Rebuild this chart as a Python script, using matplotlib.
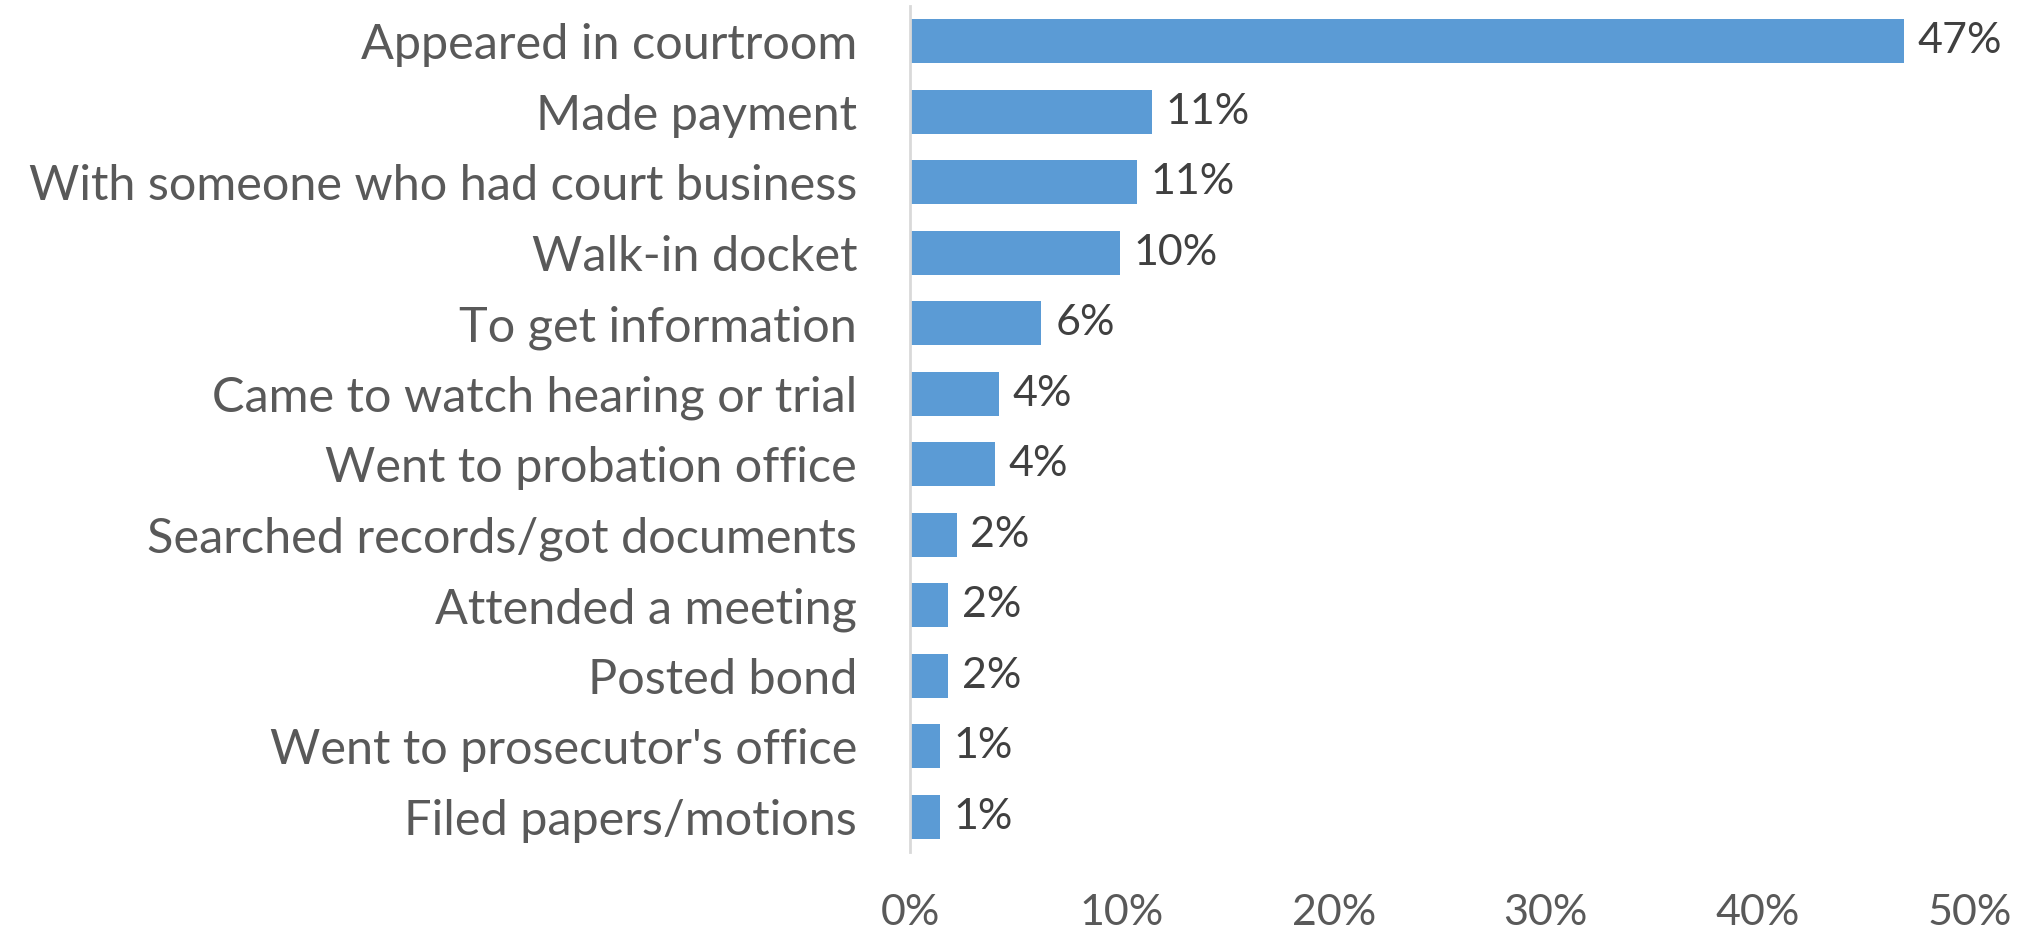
import matplotlib.pyplot as plt
from matplotlib.ticker import PercentFormatter

# data
categories = [
    "Appeared in courtroom",
    "Made payment",
    "With someone who had court business",
    "Walk-in docket",
    "To get information",
    "Came to watch hearing or trial",
    "Went to probation office",
    "Searched records/got documents",
    "Attended a meeting",
    "Posted bond",
    "Went to prosecutor's office",
    "Filed papers/motions",
]
values = [46.9, 11.4, 10.7, 9.9, 6.2, 4.2, 4.0, 2.2, 1.8, 1.8, 1.4, 1.4]
value_labels = ["47%", "11%", "11%", "10%", "6%", "4%", "4%", "2%", "2%", "2%", "1%", "1%"]

plt.rcParams["font.family"] = ["Lato", "DejaVu Sans"]

fig = plt.figure(figsize=(20.2, 9.33), dpi=100)
ax = fig.add_axes([0.4505, 0.0868, 0.5245, 0.9068])

y = list(range(len(categories)))
ax.barh(y, values, height=0.63, color="#5B9BD5")

for yi, v, lab in zip(y, values, value_labels):
    ax.text(v + 0.65, yi, lab, va="center", ha="left", fontsize=31, color="#404040")

ax.set_ylim(len(categories) - 0.5, -0.5)
ax.set_xlim(0, 50)
ax.set_yticks(y)
ax.set_yticklabels(categories, fontsize=35, color="#595959")
ax.set_xticks([0, 10, 20, 30, 40, 50])
ax.xaxis.set_major_formatter(PercentFormatter(decimals=0))
ax.tick_params(axis="x", length=0, pad=30, labelsize=31, labelcolor="#595959")
ax.tick_params(axis="y", length=0, pad=38)

for s in ["top", "right", "bottom"]:
    ax.spines[s].set_visible(False)
ax.spines["left"].set_color("#D9D9D9")
ax.spines["left"].set_linewidth(2)

plt.savefig("out.png", dpi=100)
